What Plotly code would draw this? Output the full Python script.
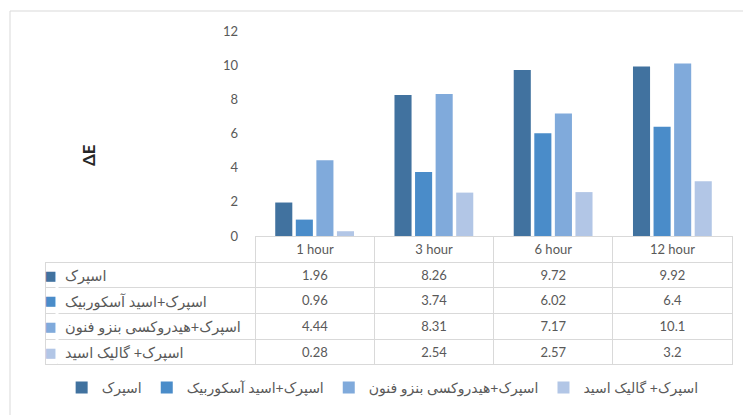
import plotly.graph_objects as go

categories = ["1 hour", "3 hour", "6 hour", "12 hour"]
series_names = [
    "اسپرک",
    "اسپرک+اسید آسکوربیک",
    "اسپرک+هیدروکسی بنزو فنون",
    "اسپرک+ گالیک اسید",
]
s1 = [1.96, 8.26, 9.72, 9.92]
s2 = [0.96, 3.74, 6.02, 6.4]
s3 = [4.44, 8.31, 7.17, 10.1]
s4 = [0.28, 2.54, 2.57, 3.2]
series_values = [s1, s2, s3, s4]
colors = ["#41729F", "#4A8CC9", "#80AADB", "#B2C6E6"]
y_ticks = [0, 2, 4, 6, 8, 10, 12]

W, H = 743, 415
FONT = "Lato, DejaVu Sans, sans-serif"
GRAY = "#595959"
LINE = "#D9D9D9"
CLEAR = "rgba(0,0,0,0)"

# table geometry (pixels)
TABLE_LEFT, TABLE_RIGHT, KEY_W, LABEL_W, COL_W = 45, 732, 12, 198, 119
HEADER_TOP, HEADER_H, ROW_H = 236, 26, 25.7

def px_x(x):
    return x / W

def px_y(y):
    return 1 - y / H

fig = go.Figure()
for name, vals, c in zip(series_names, series_values, colors):
    fig.add_trace(go.Bar(x=categories, y=vals, name=name, marker=dict(color=c, line=dict(width=0)),
                         xaxis="x", yaxis="y"))

# data table under the chart: key column, label column, one column per category
key_col = ["■"] * len(series_names)
value_cols = [[f"{series_values[s][i]:g}" for s in range(4)] for i in range(4)]

fig.add_trace(go.Table(
    domain=dict(x=[px_x(TABLE_LEFT), px_x(TABLE_RIGHT)], y=[px_y(380), px_y(HEADER_TOP)]),
    columnwidth=[KEY_W, LABEL_W] + [COL_W] * 4,
    header=dict(
        values=["", ""] + categories,
        height=HEADER_H,
        align="center",
        fill=dict(color=CLEAR),
        line=dict(color=[CLEAR, CLEAR] + [LINE] * 4, width=1),
        font=dict(family=FONT, size=13, color=GRAY),
    ),
    cells=dict(
        values=[key_col, series_names] + value_cols,
        height=ROW_H,
        align=["center", "left", "center", "center", "center", "center"],
        fill=dict(color=CLEAR),
        line=dict(color=LINE, width=1),
        font=dict(family=["DejaVu Sans", FONT, FONT, FONT, FONT, FONT],
                  size=[13, 14.5, 13, 13, 13, 13],
                  color=[colors, GRAY, GRAY, GRAY, GRAY, GRAY]),
    ),
))

fig.update_layout(
    width=W, height=H, autosize=False,
    margin=dict(l=0, r=0, t=0, b=0, pad=0, autoexpand=False),
    paper_bgcolor="white", plot_bgcolor="white",
    font=dict(family=FONT, color=GRAY),
    barmode="group", bargap=0.31, bargroupgap=0.17,
    xaxis=dict(domain=[px_x(255), px_x(732)], showticklabels=False, showgrid=False, automargin=False,
               showline=True, linecolor=LINE, ticks="", zeroline=False),
    yaxis=dict(domain=[px_y(236), px_y(31)], range=[0, 12], tickvals=y_ticks, automargin=False,
               showgrid=False, showline=False, zeroline=False, ticks="",
               ticklabelstandoff=16,
               tickfont=dict(family=FONT, size=13, color=GRAY)),
    showlegend=True,
    legend=dict(orientation="h", x=0.515, xanchor="center", y=px_y(388), yanchor="middle",
                font=dict(family=FONT, size=14, color=GRAY), traceorder="normal"),
    annotations=[dict(text="<b>ΔE</b>", x=px_x(88), y=px_y(155), xref="paper", yref="paper",
                      xanchor="center", yanchor="middle",
                      showarrow=False, textangle=-90, font=dict(family=FONT, size=17, color="#262626"))],
    shapes=[
        dict(type="rect", xref="paper", yref="paper", x0=px_x(10), x1=1.02, y0=-0.05, y1=px_y(11),
             line=dict(color=LINE, width=1), fillcolor=CLEAR, layer="below"),
        # hide the divider between the key column and the label column
        dict(type="line", xref="paper", yref="paper",
             x0=px_x(TABLE_LEFT + KEY_W), x1=px_x(TABLE_LEFT + KEY_W),
             y0=px_y(HEADER_TOP + HEADER_H + 1), y1=px_y(HEADER_TOP + HEADER_H + 4 * ROW_H - 1),
             line=dict(color="white", width=3), layer="above"),
    ],
)

post = ("document.body.style.margin='0';document.body.style.overflow='hidden';"
        "var d=document.getElementById('{plot_id}');"
        "d.style.position='absolute';d.style.left='0px';d.style.top='0px';")
fig.write_html("out.html", post_script=post,
               config={"displayModeBar": False, "responsive": False})
